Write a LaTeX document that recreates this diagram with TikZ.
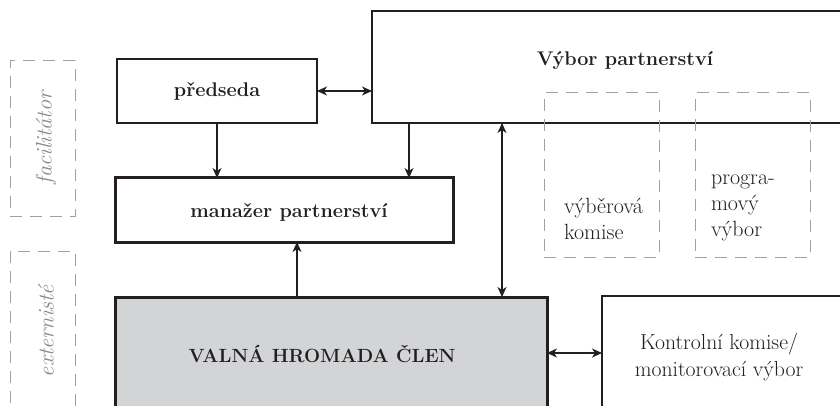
\documentclass[tikz,border=0pt]{standalone}
\usetikzlibrary{arrows.meta}
\definecolor{ink}{HTML}{231F20}
\definecolor{boxgray}{HTML}{D3D4D6}
\definecolor{dashgray}{HTML}{A0A0A0}
\definecolor{labelgray}{HTML}{8A8A8A}
\begin{document}
\begin{tikzpicture}[x=1pt,y=-1pt,
  every node/.style={inner sep=0pt,outer sep=0pt,text=ink},
  box/.style={draw=ink,rectangle,anchor=north west},
  thinbox/.style={box,line width=1.2pt},
  midbox/.style={box,line width=1.8pt},
  heavybox/.style={box,line width=3pt},
  ghost/.style={draw=dashgray,rectangle,anchor=north west,line width=1pt,
    dash pattern=on 12pt off 8pt},
  boldtext/.style={font=\fontsize{19.8}{24}\selectfont\bfseries},
  plaintext/.style={font=\fontsize{22}{26}\selectfont},
  sidetext/.style={font=\fontsize{22.4}{26}\selectfont\itshape,text=labelgray,rotate=90},
  tip/.tip={Stealth[length=10pt,width=9pt,inset=3pt]},
  arr/.style={draw=ink,line width=1.2pt,-tip},
  dbl/.style={draw=ink,line width=1.2pt,tip-tip}
]
\clip (0,0) rectangle (840,406);
\fill[white] (0,0) rectangle (840,406);

% side groups
\node[ghost,minimum width=65pt,minimum height=155pt] (fac) at (10,61) {};
\node[sidetext] (facl) at (46,138) {facilitátor};
\node[ghost,minimum width=65pt,minimum height=170pt] (ext) at (10,251) {};
\node[sidetext] (extl) at (46,331) {externisté};

% main bodies
\node[thinbox,minimum width=200pt,minimum height=64pt] (pred) at (117,59) {};
\node[boldtext] (predl) at (217,91) {předseda};

\node[midbox,minimum width=480pt,minimum height=112pt] (vybor) at (372,11) {};
\node[boldtext] (vyborl) at (625,61) {Výbor partnerství};

\node[ghost,minimum width=115pt,minimum height=164pt] (vyb) at (544,93) {};
\node[plaintext,align=left,anchor=west] (vybl) at (564,219) {výběrová\\komise};
\node[ghost,minimum width=115pt,minimum height=164pt] (prog) at (695,93) {};
\node[plaintext,align=left,anchor=west] (progl) at (711,208) {progra-\\mový\\výbor};

\node[heavybox,minimum width=338pt,minimum height=64pt] (man) at (115,178) {};
\node[boldtext] (manl) at (289,212) {manažer partnerství};

\node[heavybox,fill=boxgray,minimum width=432pt,minimum height=130pt] (valna) at (115,297) {};
\node[font=\fontsize{19.1}{23}\selectfont\bfseries] (valnal) at (322,354) {VALNÁ HROMADA ČLEN};

\node[thinbox,minimum width=250pt,minimum height=130pt] (kon) at (602,296) {};
\node[font=\fontsize{21.7}{27}\selectfont,align=center] (konl) at (719,357)
  {Kontrolní komise/\\monitorovací výbor};

% connectors
\draw[dbl] (pred.east) -- (pred.east -| vybor.west);
\draw[arr] (pred.south) -- (pred.south |- man.north);
\draw[arr] ([xshift=37pt]vybor.south west) -- ([xshift=37pt]vybor.south west |- man.north);
\draw[dbl] ([xshift=130pt]vybor.south west) -- ([xshift=130pt]vybor.south west |- valna.north);
\draw[arr] ([xshift=182pt]valna.north west) -- ([xshift=182pt]valna.north west |- man.south);
\draw[dbl] ([yshift=-56pt]valna.north east) -- ([yshift=-56pt]valna.north east -| kon.west);
\end{tikzpicture}
\end{document}
